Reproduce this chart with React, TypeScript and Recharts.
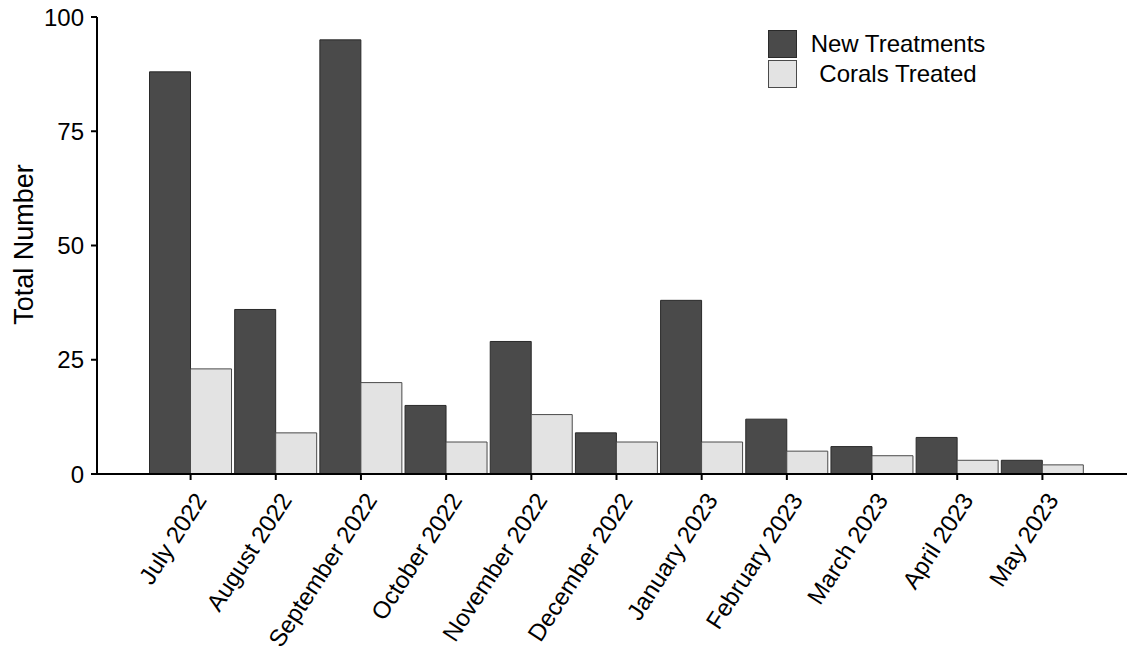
import React from 'react';
import { BarChart, Bar, XAxis, YAxis, Legend, ReferenceLine } from 'recharts';

// Monthly coral treatment counts
const MONTHS = [
  'July 2022',
  'August 2022',
  'September 2022',
  'October 2022',
  'November 2022',
  'December 2022',
  'January 2023',
  'February 2023',
  'March 2023',
  'April 2023',
  'May 2023',
];
const NEW_TREATMENTS = [88, 36, 95, 15, 29, 9, 38, 12, 6, 8, 3];
const CORALS_TREATED = [23, 9, 20, 7, 13, 7, 7, 5, 4, 3, 2];
const Y_TICKS = [0, 25, 50, 75, 100];

const SERIES = [
  { key: 'newTreatments', name: 'New Treatments', fill: '#4a4a4a', stroke: '#2a2a2a' },
  { key: 'coralsTreated', name: 'Corals Treated', fill: '#e3e3e3', stroke: '#4a4a4a' },
];

const data = MONTHS.map((month, i) => ({
  month,
  newTreatments: NEW_TREATMENTS[i],
  coralsTreated: CORALS_TREATED[i],
}));

const FONT = '"Liberation Sans", Arial, Helvetica, sans-serif';

const MonthTick = (props: any) => {
  const { x, y, payload } = props;
  return (
    <g transform={`translate(${x + 17},${y + 18})`}>
      <text
        x={0}
        y={0}
        textAnchor="end"
        transform="rotate(-57)"
        fill="#000"
        fontSize={24}
        fontFamily={FONT}
      >
        {payload.value}
      </text>
    </g>
  );
};

const YTitle = () => (
  <text
    x={33}
    y={244.5}
    transform="rotate(-90, 33, 244.5)"
    textAnchor="middle"
    fill="#000"
    fontSize={27}
    fontFamily={FONT}
  >
    Total Number
  </text>
);

const LegendBox = () => (
  <div style={{ fontFamily: FONT, fontSize: 24, color: '#000' }}>
    {SERIES.map((s) => (
      <div key={s.key} style={{ display: 'flex', alignItems: 'center', height: 28, marginBottom: 2 }}>
        <div
          style={{
            width: 27,
            height: 26,
            background: s.fill,
            border: `1px solid ${s.stroke}`,
          }}
        />
        <div style={{ width: 202, textAlign: 'center', lineHeight: '28px' }}>{s.name}</div>
      </div>
    ))}
  </div>
);

export default function App() {
  return (
    <div
      style={{
        position: 'absolute',
        left: 0,
        top: 0,
        width: 1127,
        height: 652,
        overflow: 'hidden',
        background: '#fff',
      }}
    >
      <BarChart
        width={1127}
        height={652}
        data={data}
        margin={{ top: 17, right: 0, bottom: 0, left: 0 }}
        barCategoryGap={1.5}
        barGap={0}
      >
        <XAxis
          dataKey="month"
          height={178}
          interval={0}
          padding={{ left: 51, right: 42 }}
          axisLine={{ stroke: '#000', strokeWidth: 2 }}
          tickLine={{ stroke: '#000', strokeWidth: 2 }}
          tickSize={6}
          tick={<MonthTick />}
        />
        <YAxis
          width={97}
          domain={[0, 100]}
          ticks={Y_TICKS}
          interval={0}
          allowDataOverflow
          axisLine={{ stroke: '#000', strokeWidth: 2 }}
          tickLine={{ stroke: '#000', strokeWidth: 2 }}
          tickSize={6}
          tickMargin={7}
          tick={{ fill: '#000', fontSize: 24, fontFamily: FONT }}
          label={YTitle}
        />
        <Legend
          layout="vertical"
          align="center"
          verticalAlign="middle"
          content={LegendBox}
          wrapperStyle={{ position: 'absolute', left: 768, top: 30, width: 240, height: 60 }}
        />
        {SERIES.map((s) => (
          <Bar
            key={s.key}
            dataKey={s.key}
            name={s.name}
            fill={s.fill}
            stroke={s.stroke}
            strokeWidth={1}
            isAnimationActive={false}
          />
        ))}
        <ReferenceLine y={0} stroke="#000" strokeWidth={2} />
      </BarChart>
    </div>
  );
}
